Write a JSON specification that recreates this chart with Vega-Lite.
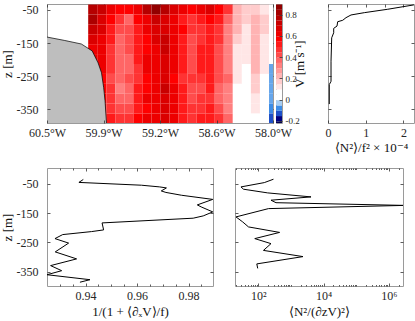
{
  "$schema": "https://vega.github.io/schema/vega-lite/v6.json",
  "padding": {"left": 0, "top": 3, "right": 0, "bottom": 0},
  "background": "white",
  "config": {
    "font": "Liberation Serif",
    "view": {"stroke": "#9a9a9a", "strokeWidth": 1},
    "axis": {"domain": false, "grid": false, "tickSize": -3, "tickColor": "#333333", "tickWidth": 0.8, "labelFont": "Liberation Serif", "labelFontSize": 12, "labelColor": "#262626", "titleFont": "Liberation Serif", "titleFontSize": 13, "titleFontWeight": "normal", "titleColor": "#111111", "labelPadding": 7, "titlePadding": 3, "labelFlush": false, "labelOverlap": false},
    "axisY": {"labelPadding": 12, "titlePadding": 2},
    "line": {"color": "black", "strokeWidth": 1}
  },
  "spacing": 12,
  "vconcat": [
    {
      "spacing": 17,
      "hconcat": [
        {
          "spacing": 3,
          "bounds": "flush",
          "hconcat": [
            {
              "width": 226,
              "height": 119,
              "resolve": {"axis": {"x": "independent", "y": "independent"}},
              "layer": [
                {
                  "data": {"values": [
                    {"lon":-60.05,"z":-62,"v":0.75},{"lon":-60.05,"z":-92,"v":0.78},{"lon":-60.05,"z":-122,"v":0.7},{"lon":-60.05,"z":-152,"v":0.65},{"lon":-60.05,"z":-182,"v":0.6},{"lon":-60.05,"z":-212,"v":0.6},{"lon":-60.05,"z":-242,"v":0.6},{"lon":-60.05,"z":-272,"v":0.6},{"lon":-60.05,"z":-302,"v":0.6},{"lon":-60.05,"z":-332,"v":0.6},{"lon":-60.05,"z":-362,"v":0.6},{"lon":-60.05,"z":-392,"v":0.6},
                    {"lon":-59.95,"z":-62,"v":0.7},{"lon":-59.95,"z":-92,"v":0.65},{"lon":-59.95,"z":-122,"v":0.65},{"lon":-59.95,"z":-152,"v":0.6},{"lon":-59.95,"z":-182,"v":0.6},{"lon":-59.95,"z":-212,"v":0.6},{"lon":-59.95,"z":-242,"v":0.6},{"lon":-59.95,"z":-272,"v":0.55},{"lon":-59.95,"z":-302,"v":0.55},{"lon":-59.95,"z":-332,"v":0.55},{"lon":-59.95,"z":-362,"v":0.55},{"lon":-59.95,"z":-392,"v":0.55},
                    {"lon":-59.85,"z":-62,"v":0.6},{"lon":-59.85,"z":-92,"v":0.55},{"lon":-59.85,"z":-122,"v":0.5},{"lon":-59.85,"z":-152,"v":0.5},{"lon":-59.85,"z":-182,"v":0.45},{"lon":-59.85,"z":-212,"v":0.45},{"lon":-59.85,"z":-242,"v":0.45},{"lon":-59.85,"z":-272,"v":0.4},{"lon":-59.85,"z":-302,"v":0.45},{"lon":-59.85,"z":-332,"v":0.45},{"lon":-59.85,"z":-362,"v":0.45},{"lon":-59.85,"z":-392,"v":0.5},
                    {"lon":-59.75,"z":-62,"v":0.55},{"lon":-59.75,"z":-92,"v":0.45},{"lon":-59.75,"z":-122,"v":0.4},{"lon":-59.75,"z":-152,"v":0.35},{"lon":-59.75,"z":-182,"v":0.35},{"lon":-59.75,"z":-212,"v":0.35},{"lon":-59.75,"z":-242,"v":0.35},{"lon":-59.75,"z":-272,"v":0.35},{"lon":-59.75,"z":-302,"v":0.3},{"lon":-59.75,"z":-332,"v":0.35},{"lon":-59.75,"z":-362,"v":0.4},{"lon":-59.75,"z":-392,"v":0.45},
                    {"lon":-59.65,"z":-62,"v":0.55},{"lon":-59.65,"z":-92,"v":0.35},{"lon":-59.65,"z":-122,"v":0.4},{"lon":-59.65,"z":-152,"v":0.4},{"lon":-59.65,"z":-182,"v":0.4},{"lon":-59.65,"z":-212,"v":0.35},{"lon":-59.65,"z":-242,"v":0.35},{"lon":-59.65,"z":-272,"v":0.4},{"lon":-59.65,"z":-302,"v":0.35},{"lon":-59.65,"z":-332,"v":0.35},{"lon":-59.65,"z":-362,"v":0.4},{"lon":-59.65,"z":-392,"v":0.45},
                    {"lon":-59.55,"z":-62,"v":0.6},{"lon":-59.55,"z":-92,"v":0.55},{"lon":-59.55,"z":-122,"v":0.5},{"lon":-59.55,"z":-152,"v":0.5},{"lon":-59.55,"z":-182,"v":0.5},{"lon":-59.55,"z":-212,"v":0.5},{"lon":-59.55,"z":-242,"v":0.45},{"lon":-59.55,"z":-272,"v":0.45},{"lon":-59.55,"z":-302,"v":0.5},{"lon":-59.55,"z":-332,"v":0.5},{"lon":-59.55,"z":-362,"v":0.5},{"lon":-59.55,"z":-392,"v":0.55},
                    {"lon":-59.45,"z":-62,"v":0.75},{"lon":-59.45,"z":-92,"v":0.6},{"lon":-59.45,"z":-122,"v":0.6},{"lon":-59.45,"z":-152,"v":0.55},{"lon":-59.45,"z":-182,"v":0.55},{"lon":-59.45,"z":-212,"v":0.6},{"lon":-59.45,"z":-242,"v":0.6},{"lon":-59.45,"z":-272,"v":0.55},{"lon":-59.45,"z":-302,"v":0.55},{"lon":-59.45,"z":-332,"v":0.6},{"lon":-59.45,"z":-362,"v":0.55},{"lon":-59.45,"z":-392,"v":0.6},
                    {"lon":-59.35,"z":-62,"v":0.85},{"lon":-59.35,"z":-92,"v":0.7},{"lon":-59.35,"z":-122,"v":0.65},{"lon":-59.35,"z":-152,"v":0.65},{"lon":-59.35,"z":-182,"v":0.6},{"lon":-59.35,"z":-212,"v":0.6},{"lon":-59.35,"z":-242,"v":0.6},{"lon":-59.35,"z":-272,"v":0.6},{"lon":-59.35,"z":-302,"v":0.6},{"lon":-59.35,"z":-332,"v":0.6},{"lon":-59.35,"z":-362,"v":0.6},{"lon":-59.35,"z":-392,"v":0.6},
                    {"lon":-59.25,"z":-62,"v":0.75},{"lon":-59.25,"z":-92,"v":0.65},{"lon":-59.25,"z":-122,"v":0.65},{"lon":-59.25,"z":-152,"v":0.7},{"lon":-59.25,"z":-182,"v":0.7},{"lon":-59.25,"z":-212,"v":0.65},{"lon":-59.25,"z":-242,"v":0.65},{"lon":-59.25,"z":-272,"v":0.65},{"lon":-59.25,"z":-302,"v":0.7},{"lon":-59.25,"z":-332,"v":0.65},{"lon":-59.25,"z":-362,"v":0.65},{"lon":-59.25,"z":-392,"v":0.65},
                    {"lon":-59.15,"z":-62,"v":0.65},{"lon":-59.15,"z":-92,"v":0.6},{"lon":-59.15,"z":-122,"v":0.6},{"lon":-59.15,"z":-152,"v":0.6},{"lon":-59.15,"z":-182,"v":0.6},{"lon":-59.15,"z":-212,"v":0.6},{"lon":-59.15,"z":-242,"v":0.6},{"lon":-59.15,"z":-272,"v":0.55},{"lon":-59.15,"z":-302,"v":0.6},{"lon":-59.15,"z":-332,"v":0.6},{"lon":-59.15,"z":-362,"v":0.6},{"lon":-59.15,"z":-392,"v":0.6},
                    {"lon":-59.05,"z":-62,"v":0.6},{"lon":-59.05,"z":-92,"v":0.5},{"lon":-59.05,"z":-122,"v":0.55},{"lon":-59.05,"z":-152,"v":0.5},{"lon":-59.05,"z":-182,"v":0.5},{"lon":-59.05,"z":-212,"v":0.5},{"lon":-59.05,"z":-242,"v":0.5},{"lon":-59.05,"z":-272,"v":0.45},{"lon":-59.05,"z":-302,"v":0.5},{"lon":-59.05,"z":-332,"v":0.5},{"lon":-59.05,"z":-362,"v":0.5},{"lon":-59.05,"z":-392,"v":0.5},
                    {"lon":-58.95,"z":-62,"v":0.55},{"lon":-58.95,"z":-92,"v":0.45},{"lon":-58.95,"z":-122,"v":0.45},{"lon":-58.95,"z":-152,"v":0.4},{"lon":-58.95,"z":-182,"v":0.4},{"lon":-58.95,"z":-212,"v":0.4},{"lon":-58.95,"z":-242,"v":0.4},{"lon":-58.95,"z":-272,"v":0.45},{"lon":-58.95,"z":-302,"v":0.4},{"lon":-58.95,"z":-332,"v":0.4},{"lon":-58.95,"z":-362,"v":0.45},{"lon":-58.95,"z":-392,"v":0.45},
                    {"lon":-58.85,"z":-62,"v":0.6},{"lon":-58.85,"z":-92,"v":0.5},{"lon":-58.85,"z":-122,"v":0.45},{"lon":-58.85,"z":-152,"v":0.45},{"lon":-58.85,"z":-182,"v":0.5},{"lon":-58.85,"z":-212,"v":0.5},{"lon":-58.85,"z":-242,"v":0.5},{"lon":-58.85,"z":-272,"v":0.45},{"lon":-58.85,"z":-302,"v":0.4},{"lon":-58.85,"z":-332,"v":0.45},{"lon":-58.85,"z":-362,"v":0.45},{"lon":-58.85,"z":-392,"v":0.5},
                    {"lon":-58.75,"z":-62,"v":0.65},{"lon":-58.75,"z":-92,"v":0.55},{"lon":-58.75,"z":-122,"v":0.5},{"lon":-58.75,"z":-152,"v":0.5},{"lon":-58.75,"z":-182,"v":0.5},{"lon":-58.75,"z":-212,"v":0.5},{"lon":-58.75,"z":-242,"v":0.5},{"lon":-58.75,"z":-272,"v":0.5},{"lon":-58.75,"z":-302,"v":0.5},{"lon":-58.75,"z":-332,"v":0.45},{"lon":-58.75,"z":-362,"v":0.5},{"lon":-58.75,"z":-392,"v":0.5},
                    {"lon":-58.65,"z":-62,"v":0.55},{"lon":-58.65,"z":-92,"v":0.5},{"lon":-58.65,"z":-122,"v":0.45},{"lon":-58.65,"z":-152,"v":0.45},{"lon":-58.65,"z":-182,"v":0.4},{"lon":-58.65,"z":-212,"v":0.4},{"lon":-58.65,"z":-242,"v":0.4},{"lon":-58.65,"z":-272,"v":0.4},{"lon":-58.65,"z":-302,"v":0.35},{"lon":-58.65,"z":-332,"v":0.35},{"lon":-58.65,"z":-362,"v":0.4},{"lon":-58.65,"z":-392,"v":0.45},
                    {"lon":-58.55,"z":-62,"v":0.45},{"lon":-58.55,"z":-92,"v":0.35},{"lon":-58.55,"z":-122,"v":0.3},{"lon":-58.55,"z":-152,"v":0.3},{"lon":-58.55,"z":-182,"v":0.3},{"lon":-58.55,"z":-212,"v":0.3},{"lon":-58.55,"z":-242,"v":0.3},{"lon":-58.55,"z":-272,"v":0.35},{"lon":-58.55,"z":-302,"v":0.3},{"lon":-58.55,"z":-332,"v":0.3},{"lon":-58.55,"z":-362,"v":0.3},{"lon":-58.55,"z":-392,"v":0.35},
                    {"lon":-58.45,"z":-62,"v":0.2},{"lon":-58.45,"z":-92,"v":0.2},{"lon":-58.45,"z":-122,"v":0.2},{"lon":-58.45,"z":-152,"v":0.15},{"lon":-58.45,"z":-182,"v":0.1},{"lon":-58.45,"z":-212,"v":0.1},{"lon":-58.45,"z":-242,"v":0.1},{"lon":-58.45,"z":-272,"v":0.1},{"lon":-58.45,"z":-302,"v":0.05},{"lon":-58.45,"z":-332,"v":0.05},{"lon":-58.45,"z":-362,"v":0.02},{"lon":-58.45,"z":-392,"v":0.02},
                    {"lon":-58.35,"z":-62,"v":0.15},{"lon":-58.35,"z":-92,"v":0.15},{"lon":-58.35,"z":-122,"v":0.1},{"lon":-58.35,"z":-152,"v":0.1},{"lon":-58.35,"z":-182,"v":0.1},{"lon":-58.35,"z":-212,"v":0.1},{"lon":-58.35,"z":-242,"v":0.05},{"lon":-58.35,"z":-272,"v":0.05},{"lon":-58.35,"z":-302,"v":0.05},{"lon":-58.35,"z":-332,"v":0.02},{"lon":-58.35,"z":-362,"v":0.02},{"lon":-58.35,"z":-392,"v":0.02},
                    {"lon":-58.25,"z":-62,"v":0.15},{"lon":-58.25,"z":-92,"v":0.2},{"lon":-58.25,"z":-122,"v":0.2},{"lon":-58.25,"z":-152,"v":0.2},{"lon":-58.25,"z":-182,"v":0.2},{"lon":-58.25,"z":-212,"v":0.2},{"lon":-58.25,"z":-242,"v":0.2},{"lon":-58.25,"z":-272,"v":0.15},{"lon":-58.25,"z":-302,"v":0.15},{"lon":-58.25,"z":-332,"v":0.1},{"lon":-58.25,"z":-362,"v":0.1},{"lon":-58.25,"z":-392,"v":0.05},
                    {"lon":-58.15,"z":-62,"v":0.1},{"lon":-58.15,"z":-92,"v":0.15},{"lon":-58.15,"z":-122,"v":0.15},{"lon":-58.15,"z":-152,"v":0.1},{"lon":-58.15,"z":-182,"v":0.1},{"lon":-58.15,"z":-212,"v":0.1},{"lon":-58.15,"z":-242,"v":0.1},{"lon":-58.15,"z":-272,"v":0.05},{"lon":-58.15,"z":-302,"v":0.05},{"lon":-58.15,"z":-332,"v":0.05},{"lon":-58.15,"z":-362,"v":0.02},{"lon":-58.15,"z":-392,"v":0.02},
                    {"lon":-58.05,"z":-62,"v":0.02},{"lon":-58.05,"z":-92,"v":0.02},{"lon":-58.05,"z":-122,"v":0.02},{"lon":-58.05,"z":-152,"v":0.02},{"lon":-58.05,"z":-182,"v":0.02},{"lon":-58.05,"z":-212,"v":0.02},{"lon":-58.05,"z":-242,"v":-0.08},{"lon":-58.05,"z":-272,"v":-0.08},{"lon":-58.05,"z":-302,"v":-0.08},{"lon":-58.05,"z":-332,"v":-0.08},{"lon":-58.05,"z":-362,"v":-0.1},{"lon":-58.05,"z":-392,"v":-0.15}
                  ]},
                  "mark": {"type": "rect", "clip": true},
                  "encoding": {
                    "x": {"field": "lon", "type": "quantitative", "bin": {"binned": true, "step": 0.1},
                      "scale": {"domain": [-60.5, -58.0], "nice": false, "zero": false},
                      "axis": {"title": null, "values": [-60.5, -59.875, -59.25, -58.625, -58.0],
                        "labelExpr": "datum.value == -60.5 ? '60.5°W' : datum.value == -59.875 ? '59.9°W' : datum.value == -59.25 ? '59.2°W' : datum.value == -58.625 ? '58.6°W' : '58.0°W'"}},
                    "y": {"field": "z", "type": "quantitative", "bin": {"binned": true, "step": 30},
                      "scale": {"domain": [-392, -32], "nice": false, "zero": false},
                      "axis": {"title": "z [m]", "values": [-350, -250, -150, -50], "labelExpr": "'' + datum.value"}},
                    "color": {"field": "v", "type": "quantitative", "legend": null,
                      "scale": {"type": "linear", "domain": [-0.22, -0.2, -0.15, -0.1, -0.05, 0, 0.05, 0.55, 0.9], "range": ["#00006e", "#000080", "#1e50c8", "#3c8ce6", "#a6cdf2", "#ffffff", "#ffffff", "#ff0000", "#800000"], "interpolate": "rgb"}}
                  }
                },
                {
                  "data": {"values": [
                    {"lon": -60.5, "z": -132}, {"lon": -60.31, "z": -142}, {"lon": -60.12, "z": -153}, {"lon": -60.0, "z": -174},
                    {"lon": -59.935, "z": -210}, {"lon": -59.897, "z": -240}, {"lon": -59.873, "z": -285}, {"lon": -59.858, "z": -325}, {"lon": -59.842, "z": -392}
                  ]},
                  "mark": {"type": "area", "color": "#bebebe", "opacity": 1, "clip": true},
                  "encoding": {
                    "x": {"field": "lon", "type": "quantitative", "axis": null},
                    "y": {"field": "z", "type": "quantitative", "axis": null},
                    "y2": {"datum": -392}
                  }
                },
                {
                  "data": {"values": [
                    {"lon": -60.5, "z": -132}, {"lon": -60.31, "z": -142}, {"lon": -60.12, "z": -153}, {"lon": -60.0, "z": -174},
                    {"lon": -59.935, "z": -210}, {"lon": -59.897, "z": -240}, {"lon": -59.873, "z": -285}, {"lon": -59.858, "z": -325}, {"lon": -59.842, "z": -392}
                  ]},
                  "mark": {"type": "line", "color": "#000000", "strokeWidth": 0.7, "clip": true},
                  "encoding": {
                    "x": {"field": "lon", "type": "quantitative", "axis": null},
                    "y": {"field": "z", "type": "quantitative", "axis": null}
                  }
                },
                {
                  "data": {"values": [{"lon": -60.5, "z": -392}]},
                  "mark": {"type": "point", "opacity": 0, "clip": true},
                  "encoding": {
                    "x": {"field": "lon", "type": "quantitative", "axis": {"orient": "top", "labels": false, "title": null, "values": [-60.5, -59.875, -59.25, -58.625, -58.0]}},
                    "y": {"field": "z", "type": "quantitative", "axis": {"orient": "right", "labels": false, "title": null, "values": [-350, -250, -150, -50]}}
                  }
                }
              ]
            },
            {
              "width": 6,
              "height": 119,
              "data": {"values": [
                {"c": -0.25}, {"c": -0.2}, {"c": -0.15}, {"c": -0.1}, {"c": -0.05}, {"c": 0}, {"c": 0.05}, {"c": 0.1}, {"c": 0.15}, {"c": 0.2}, {"c": 0.25}, {"c": 0.3},
                {"c": 0.35}, {"c": 0.4}, {"c": 0.45}, {"c": 0.5}, {"c": 0.55}, {"c": 0.6}, {"c": 0.65}, {"c": 0.7}, {"c": 0.75}, {"c": 0.8}, {"c": 0.85}
              ]},
              "mark": {"type": "rect", "clip": true},
              "encoding": {
                "y": {"field": "c", "type": "quantitative", "bin": {"binned": true, "step": 0.05},
                  "scale": {"domain": [-0.22, 0.9], "nice": false, "zero": false},
                  "axis": {"orient": "right", "values": [-0.2, 0, 0.2, 0.4, 0.6, 0.8], "labelExpr": "'' + datum.value", "labelFontSize": 9, "labelPadding": 6, "title": "V [m s⁻¹]", "titleAngle": 270, "titlePadding": 7, "titleFontSize": 13}},
                "color": {"field": "c", "type": "quantitative", "legend": null,
                  "scale": {"type": "linear", "domain": [-0.22, -0.2, -0.15, -0.1, -0.05, 0, 0.05, 0.55, 0.9], "range": ["#00006e", "#000080", "#1e50c8", "#3c8ce6", "#a6cdf2", "#ffffff", "#ffffff", "#ff0000", "#800000"], "interpolate": "rgb"}}
              }
            }
          ]
        },
        {
          "width": 86,
          "height": 119,
          "data": {"values": [
            {"n2": 2.6, "z": -31}, {"n2": 2.27, "z": -34.8}, {"n2": 1.584, "z": -47.9}, {"n2": 0.963, "z": -58.2}, {"n2": 0.61, "z": -65.2},
            {"n2": 0.477, "z": -73.4}, {"n2": 0.39, "z": -81.3}, {"n2": 0.257, "z": -85.6}, {"n2": 0.239, "z": -98.7}, {"n2": 0.151, "z": -105.7},
            {"n2": 0.151, "z": -119}, {"n2": 0.098, "z": -134.2}, {"n2": 0.08, "z": -205}, {"n2": 0.08, "z": -265.8}, {"n2": 0.034, "z": -275.9}, {"n2": 0.034, "z": -334.8}
          ]},
          "resolve": {"axis": {"x": "independent", "y": "independent"}},
          "layer": [
            {
              "mark": {"type": "line", "color": "black", "strokeWidth": 1, "clip": true},
              "encoding": {
                "x": {"field": "n2", "type": "quantitative", "scale": {"domain": [0, 2.28], "nice": false, "zero": false},
                  "axis": {"values": [0, 1, 2], "title": "⟨N²⟩/f² × 10⁻⁴", "labelExpr": "'' + datum.value"}},
                "y": {"field": "z", "type": "quantitative", "scale": {"domain": [-392, -32], "nice": false, "zero": false},
                  "axis": {"values": [-350, -250, -150, -50], "labels": false, "title": null}},
                "order": {"field": "z", "type": "quantitative"}
              }
            },
            {
              "mark": {"type": "point", "opacity": 0, "clip": true},
              "encoding": {
                "x": {"field": "n2", "type": "quantitative", "axis": {"orient": "top", "values": [0, 0.5, 1, 1.5, 2], "labels": false, "title": null}},
                "y": {"field": "z", "type": "quantitative", "axis": {"orient": "right", "values": [-350, -250, -150, -50], "labels": false, "title": null}}
              }
            }
          ]
        }
      ]
    },
    {
      "spacing": 22,
      "bounds": "flush",
      "hconcat": [
        {
          "width": 166,
          "height": 118,
          "data": {"values": [
            {"a": 0.9391, "z": -36}, {"a": 0.9374, "z": -46}, {"a": 0.9617, "z": -55.5}, {"a": 0.9688, "z": -61.3}, {"a": 0.9714, "z": -64.7},
            {"a": 0.9694, "z": -74.9}, {"a": 0.9712, "z": -80}, {"a": 0.9772, "z": -89.5}, {"a": 0.9894, "z": -103.7}, {"a": 0.9834, "z": -122.4},
            {"a": 0.9849, "z": -129.2}, {"a": 0.9894, "z": -146.2}, {"a": 0.9857, "z": -159.8}, {"a": 0.9818, "z": -167.6}, {"a": 0.9464, "z": -183.6},
            {"a": 0.947, "z": -207.4}, {"a": 0.9423, "z": -213.1}, {"a": 0.9311, "z": -223.3}, {"a": 0.9281, "z": -236.9}, {"a": 0.9334, "z": -252.2},
            {"a": 0.9282, "z": -282.1}, {"a": 0.9365, "z": -305.9}, {"a": 0.9264, "z": -328.7}, {"a": 0.9307, "z": -346}, {"a": 0.925, "z": -359.7},
            {"a": 0.9417, "z": -376.6}, {"a": 0.9378, "z": -385.1}
          ]},
          "resolve": {"axis": {"x": "independent", "y": "independent"}},
          "layer": [
            {
              "mark": {"type": "line", "color": "black", "strokeWidth": 1, "clip": true},
              "encoding": {
                "x": {"field": "a", "type": "quantitative", "scale": {"domain": [0.925, 0.9895], "nice": false, "zero": false},
                  "axis": {"values": [0.93, 0.935, 0.94, 0.945, 0.95, 0.955, 0.96, 0.965, 0.97, 0.975, 0.98, 0.985],
                    "tickSize": {"condition": {"test": "datum.value == 0.94 || datum.value == 0.96 || datum.value == 0.98", "value": -3}, "value": -2},
                    "title": "1/(1 + ⟨∂ₓV⟩/f)", "labelExpr": "(datum.value == 0.94 || datum.value == 0.96 || datum.value == 0.98) ? '' + datum.value : ''"}},
                "y": {"field": "z", "type": "quantitative", "scale": {"domain": [-398, 3], "nice": false, "zero": false},
                  "axis": {"values": [-350, -250, -150, -50], "title": "z [m]", "labelExpr": "'' + datum.value"}},
                "order": {"field": "z", "type": "quantitative"}
              }
            },
            {
              "mark": {"type": "point", "opacity": 0, "clip": true},
              "encoding": {
                "x": {"field": "a", "type": "quantitative", "axis": {"orient": "top", "values": [0.93, 0.935, 0.94, 0.945, 0.95, 0.955, 0.96, 0.965, 0.97, 0.975, 0.98, 0.985], "labels": false, "title": null,
                  "tickSize": {"condition": {"test": "datum.value == 0.94 || datum.value == 0.96 || datum.value == 0.98", "value": -3}, "value": -2}}},
                "y": {"field": "z", "type": "quantitative", "axis": {"orient": "right", "values": [-350, -250, -150, -50], "labels": false, "title": null}}
              }
            }
          ]
        },
        {
          "width": 168,
          "height": 118,
          "data": {"values": [
            {"n": 292, "z": -35.1}, {"n": 153, "z": -46.6}, {"n": 29.4, "z": -61.3}, {"n": 35.2, "z": -69.1}, {"n": 194, "z": -81.6},
            {"n": 4140, "z": -95.2}, {"n": 245, "z": -106.4}, {"n": 349, "z": -114.9}, {"n": 3000000, "z": -124.1}, {"n": 206, "z": -135},
            {"n": 20.7, "z": -163.2}, {"n": 33.2, "z": -180.2}, {"n": 50, "z": -197.2}, {"n": 450, "z": -215.9}, {"n": 78, "z": -236.9},
            {"n": 245, "z": -254}, {"n": 144, "z": -277}, {"n": 2350, "z": -298.1}, {"n": 90, "z": -322.9}, {"n": 96, "z": -338.2}
          ]},
          "resolve": {"axis": {"x": "independent", "y": "independent"}},
          "layer": [
            {
              "mark": {"type": "line", "color": "black", "strokeWidth": 1, "clip": true},
              "encoding": {
                "x": {"field": "n", "type": "quantitative", "scale": {"type": "log", "domain": [19.3, 2740000], "nice": false},
                  "axis": {"values": [20, 30, 40, 50, 60, 70, 80, 90, 100, 200, 300, 400, 500, 600, 700, 800, 900, 1000, 2000, 3000, 4000, 5000, 6000, 7000, 8000, 9000, 10000, 20000, 30000, 40000, 50000, 60000, 70000, 80000, 90000, 100000, 200000, 300000, 400000, 500000, 600000, 700000, 800000, 900000, 1000000, 2000000],
                    "tickSize": {"condition": {"test": "datum.value == 100 || datum.value == 10000 || datum.value == 1000000", "value": -3}, "value": -1.5},
                    "title": "⟨N²/(∂zV)²⟩", "labelExpr": "datum.value == 100 ? '10²' : datum.value == 10000 ? '10⁴' : datum.value == 1000000 ? '10⁶' : ''"}},
                "y": {"field": "z", "type": "quantitative", "scale": {"domain": [-398, 3], "nice": false, "zero": false},
                  "axis": {"values": [-350, -250, -150, -50], "labels": false, "title": null}},
                "order": {"field": "z", "type": "quantitative"}
              }
            },
            {
              "mark": {"type": "point", "opacity": 0, "clip": true},
              "encoding": {
                "x": {"field": "n", "type": "quantitative", "axis": {"orient": "top", "values": [20, 30, 40, 50, 60, 70, 80, 90, 100, 200, 300, 400, 500, 600, 700, 800, 900, 1000, 2000, 3000, 4000, 5000, 6000, 7000, 8000, 9000, 10000, 20000, 30000, 40000, 50000, 60000, 70000, 80000, 90000, 100000, 200000, 300000, 400000, 500000, 600000, 700000, 800000, 900000, 1000000, 2000000],
                  "tickSize": {"condition": {"test": "datum.value == 100 || datum.value == 10000 || datum.value == 1000000", "value": -3}, "value": -1.5},
                  "labels": false, "title": null}},
                "y": {"field": "z", "type": "quantitative", "axis": {"orient": "right", "values": [-350, -250, -150, -50], "labels": false, "title": null}}
              }
            }
          ]
        }
      ]
    }
  ]
}
